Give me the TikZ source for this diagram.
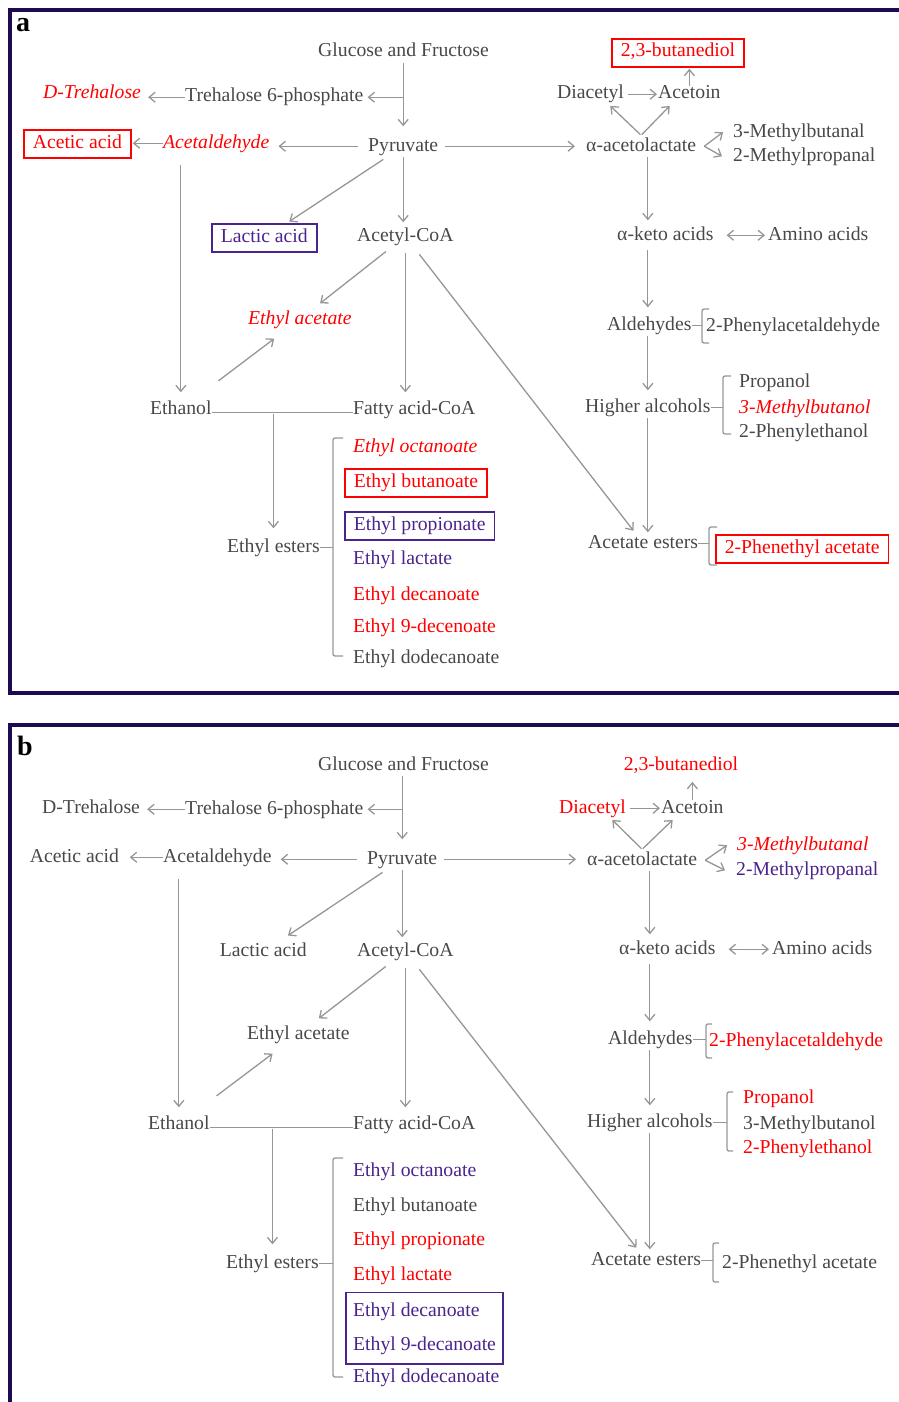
\documentclass[tikz,border=0pt]{standalone}
\usepackage{fontspec}
\setmainfont{Liberation Serif}
\usetikzlibrary{arrows.meta, fit, calc}

\definecolor{tgrey}{RGB}{72,72,72}
\definecolor{agrey}{RGB}{150,150,150}
\definecolor{hred}{RGB}{255,0,0}
\definecolor{hpurple}{RGB}{75,35,140}
\definecolor{fnavy}{RGB}{30,10,80}

\newcommand{\mainsz}{\fontsize{19.7}{22}\selectfont}

\tikzset{
  txt/.style={inner xsep=0pt, inner ysep=2pt, text height=13.5pt, text depth=4pt, anchor=base west, text=tgrey, font=\mainsz},
  itl/.style={font=\mainsz\itshape},
  hi/.style={text=hred},
  lo/.style={text=hpurple},
  rbox/.style={draw=hred, line width=1.6pt, inner xsep=9pt, inner ysep=4pt, text height=14pt, text depth=6pt},
  pbox/.style={rbox, draw=hpurple},
  nbox/.style={rbox, draw=none},
  gbox/.style={draw=hpurple, line width=1.6pt, inner xsep=7pt, inner ysep=8pt},
  ln/.style={draw=agrey, line width=1.3pt},
  arr/.style={ln, -{Straight Barb[length=6pt,width=10pt]}, shorten >=5pt},
  darr/.style={ln, {Straight Barb[length=6pt,width=10pt]}-{Straight Barb[length=6pt,width=10pt]}},
  brk/.style={ln, rounded corners=2pt},
  frame/.style={draw=fnavy, line width=4pt},
  tag/.style={font=\fontsize{28}{30}\selectfont\bfseries, anchor=base west, inner sep=0pt}
}

% bracket: node, x, top, bottom, tick
\newcommand{\bracketat}[5]{%
  \coordinate (bx) at (#2,0);
  \draw[brk] (#1.east) -- (#1.east -| bx);
  \draw[brk] (#2,#3) ++(#5,0) -- (#2,#3) -- (#2,#4) -- ++(#5,0);
}

% links shared by both panels
\newcommand{\pathwaylinks}{%
  \draw[arr, shorten >=9pt] (pyr.north |- glu.south) -- (pyr.north);
  \draw[arr, shorten >=4pt] (tre.east -| pyr.north) -- (tre.east);
  \draw[arr, shorten >=7pt] (tre.west) -- (tre.west -| dtr.east);
  \draw[arr, shorten <=10pt, shorten >=9pt] (pyr.west) -- (pyr.west -| acd.east);
  \draw[arr, shorten >=1pt] (acd.west) -- (acd.west -| aca.east);
  \draw[arr, shorten <=11pt, shorten >=6pt] (eth.north |- acd.south) -- (eth.north);
  \draw[arr, shorten <=4pt, shorten >=3pt] (pyr) -- (lac);
  \draw[arr, shorten >=3pt] (pyr.south) -- (pyr.south |- acy.north);
  \draw[arr, shorten <=7pt, shorten >=11pt] (pyr.east) -- (pyr.east -| acl.west);
  \draw[arr, shorten <=7pt, shorten >=8pt] (acy) -- (eac);
  \draw[arr, shorten <=29pt, shorten >=14pt] (eth) -- (eac);
  \draw[arr, shorten <=6pt, shorten >=6pt] (acy.south) -- (acy.south |- fat.north);
  \draw[arr, shorten <=9pt, shorten >=2pt] (acy) -- (aes);
  \draw[ln] ([yshift=-3pt]eth.east) -- ([yshift=-3pt]fat.west);
  \draw[arr, shorten <=5pt, shorten >=8pt] (ees.north |- fat.west) -- (ees.north);
  % right branch
  \draw[arr, shorten <=1pt, shorten >=1pt] (acl.north) -- (dia.-30);
  \draw[arr, shorten <=1pt, shorten >=1pt] (acl.north) -- (aco.-150);
  \draw[arr, shorten <=4pt, shorten >=1pt] (dia.east) -- (dia.east -| aco.west);
  \draw[arr, shorten <=-3pt, shorten >=1pt] (aco.north) -- (aco.north |- bd.south);
  \coordinate (fk) at ([xshift=8pt]acl.east);
  \draw[arr, shorten >=0pt] (fk) -- ([xshift=-10pt]mbl.west);
  \draw[arr, shorten >=0pt] (fk) -- ([xshift=-11pt]mpr.west);
  \draw[arr, shorten >=4pt] (acl.south -| hal.north) -- (keto.north -| hal.north);
  \draw[darr, shorten <=13pt, shorten >=3pt] (keto.east) -- (keto.east -| ami.west);
  \draw[arr, shorten <=4pt, shorten >=7pt] (keto.south -| hal.north) -- (ald.north -| hal.north);
  \draw[arr, shorten >=6pt] (ald.south -| hal.north) -- (hal.north);
  \draw[arr, shorten >=0pt] (hal.south) -- (hal.south |- aes.north);
}

\begin{document}
\begin{tikzpicture}[x=1pt, y=-1pt]
  \useasboundingbox (0,0) rectangle (898,1402);

  % panel a
  \draw[frame] (10,10) rectangle (912,693);
  \node[tag] (tga) at (16,32) {a};
  \node[txt] (glu) at (318,57) {Glucose and Fructose};
  \node[txt] (tre) at (185,102) {Trehalose 6-phosphate};
  \node[txt, itl, hi] (dtr) at (43,99) {D-Trehalose};
  \node[txt] (pyr) at (368,151) {Pyruvate};
  \node[txt, itl, hi] (acd) at (163,148) {Acetaldehyde};
  \node[txt, hi, rbox] (aca) at (23,148) {Acetic acid};
  \node[txt, lo, pbox] (lac) at (211,242) {Lactic acid};
  \node[txt] (acy) at (357,241) {Acetyl-CoA};
  \node[txt, itl, hi] (eac) at (248,324) {Ethyl acetate};
  \node[txt] (eth) at (150,414) {Ethanol};
  \node[txt] (fat) at (353,414) {Fatty acid-CoA};
  \node[txt] (ees) at (227,552) {Ethyl esters};
  \node[txt, itl, hi] (eoc) at (353,452) {Ethyl octanoate};
  \node[txt, hi, rbox] (ebu) at (344,487) {Ethyl butanoate};
  \node[txt, lo, pbox] (epr) at (344,530) {Ethyl propionate};
  \node[txt, lo] (ela) at (353,564) {Ethyl lactate};
  \node[txt, hi] (ede) at (353,600) {Ethyl decanoate};
  \node[txt, hi] (e9d) at (353,632) {Ethyl 9-decenoate};
  \node[txt] (edd) at (353,663) {Ethyl dodecanoate};
  \node[txt, hi, rbox] (bd) at (611,57) {2,3-butanediol};
  \node[txt] (dia) at (557,99) {Diacetyl};
  \node[txt] (aco) at (658,99) {Acetoin};
  \node[txt] (acl) at (586,151) {α-acetolactate};
  \node[txt] (mbl) at (733,137) {3-Methylbutanal};
  \node[txt] (mpr) at (733,161) {2-Methylpropanal};
  \node[txt] (keto) at (617,240) {α-keto acids};
  \node[txt] (ami) at (768,240) {Amino acids};
  \node[txt] (ald) at (607,330) {Aldehydes};
  \node[txt] (pha) at (706,331) {2-Phenylacetaldehyde};
  \node[txt] (hal) at (585,412) {Higher alcohols};
  \node[txt] (pro) at (739,387) {Propanol};
  \node[txt, itl, hi] (mbo) at (739,413) {3-Methylbutanol};
  \node[txt] (phe) at (739,437) {2-Phenylethanol};
  \node[txt] (aes) at (588,548) {Acetate esters};
  \node[txt, hi, rbox] (pea) at (715,553) {2-Phenethyl acetate};
  \pathwaylinks
  \bracketat{ees}{333}{438}{656}{10}
  \bracketat{ald}{702}{309}{343}{7}
  \bracketat{hal}{723}{376}{434}{8}
  \bracketat{aes}{709}{527}{565}{8}

  % panel b
  \draw[frame] (10,725) rectangle (912,1420);
  \node[tag] (tgb) at (17,755) {b};
  \node[txt] (glu) at (318,770) {Glucose and Fructose};
  \node[txt] (tre) at (185,814) {Trehalose 6-phosphate};
  \node[txt] (dtr) at (42,813) {D-Trehalose};
  \node[txt] (pyr) at (367,864) {Pyruvate};
  \node[txt] (acd) at (163,862) {Acetaldehyde};
  \node[txt, nbox] (aca) at (20,862) {Acetic acid};
  \node[txt, nbox] (lac) at (210,956) {Lactic acid};
  \node[txt] (acy) at (357,956) {Acetyl-CoA};
  \node[txt] (eac) at (247,1039) {Ethyl acetate};
  \node[txt] (eth) at (148,1129) {Ethanol};
  \node[txt] (fat) at (353,1129) {Fatty acid-CoA};
  \node[txt] (ees) at (226,1268) {Ethyl esters};
  \node[txt, lo] (eoc) at (353,1176) {Ethyl octanoate};
  \node[txt] (ebu) at (353,1211) {Ethyl butanoate};
  \node[txt, hi] (epr) at (353,1245) {Ethyl propionate};
  \node[txt, hi] (ela) at (353,1280) {Ethyl lactate};
  \node[txt, lo] (ede) at (353,1316) {Ethyl decanoate};
  \node[txt, lo] (e9d) at (353,1350) {Ethyl 9-decanoate};
  \node[txt, lo] (edd) at (353,1382) {Ethyl dodecanoate};
  \node[gbox, fit=(ede)(e9d)] (grp) {};
  \node[txt, hi, nbox] (bd) at (614,770) {2,3-butanediol};
  \node[txt, hi] (dia) at (559,813) {Diacetyl};
  \node[txt] (aco) at (661,813) {Acetoin};
  \node[txt] (acl) at (587,865) {α-acetolactate};
  \node[txt, itl, hi] (mbl) at (737,850) {3-Methylbutanal};
  \node[txt, lo] (mpr) at (736,875) {2-Methylpropanal};
  \node[txt] (keto) at (619,954) {α-keto acids};
  \node[txt] (ami) at (772,954) {Amino acids};
  \node[txt] (ald) at (608,1044) {Aldehydes};
  \node[txt, hi] (pha) at (709,1046) {2-Phenylacetaldehyde};
  \node[txt] (hal) at (587,1127) {Higher alcohols};
  \node[txt, hi] (pro) at (743,1103) {Propanol};
  \node[txt] (mbo) at (743,1129) {3-Methylbutanol};
  \node[txt, hi] (phe) at (743,1153) {2-Phenylethanol};
  \node[txt] (aes) at (591,1265) {Acetate esters};
  \node[txt] (pea) at (722,1268) {2-Phenethyl acetate};
  \pathwaylinks
  \bracketat{ees}{333}{1158}{1377}{10}
  \bracketat{ald}{706}{1024}{1058}{6}
  \bracketat{hal}{727}{1092}{1151}{6}
  \bracketat{aes}{713}{1243}{1282}{6}
\end{tikzpicture}
\end{document}
